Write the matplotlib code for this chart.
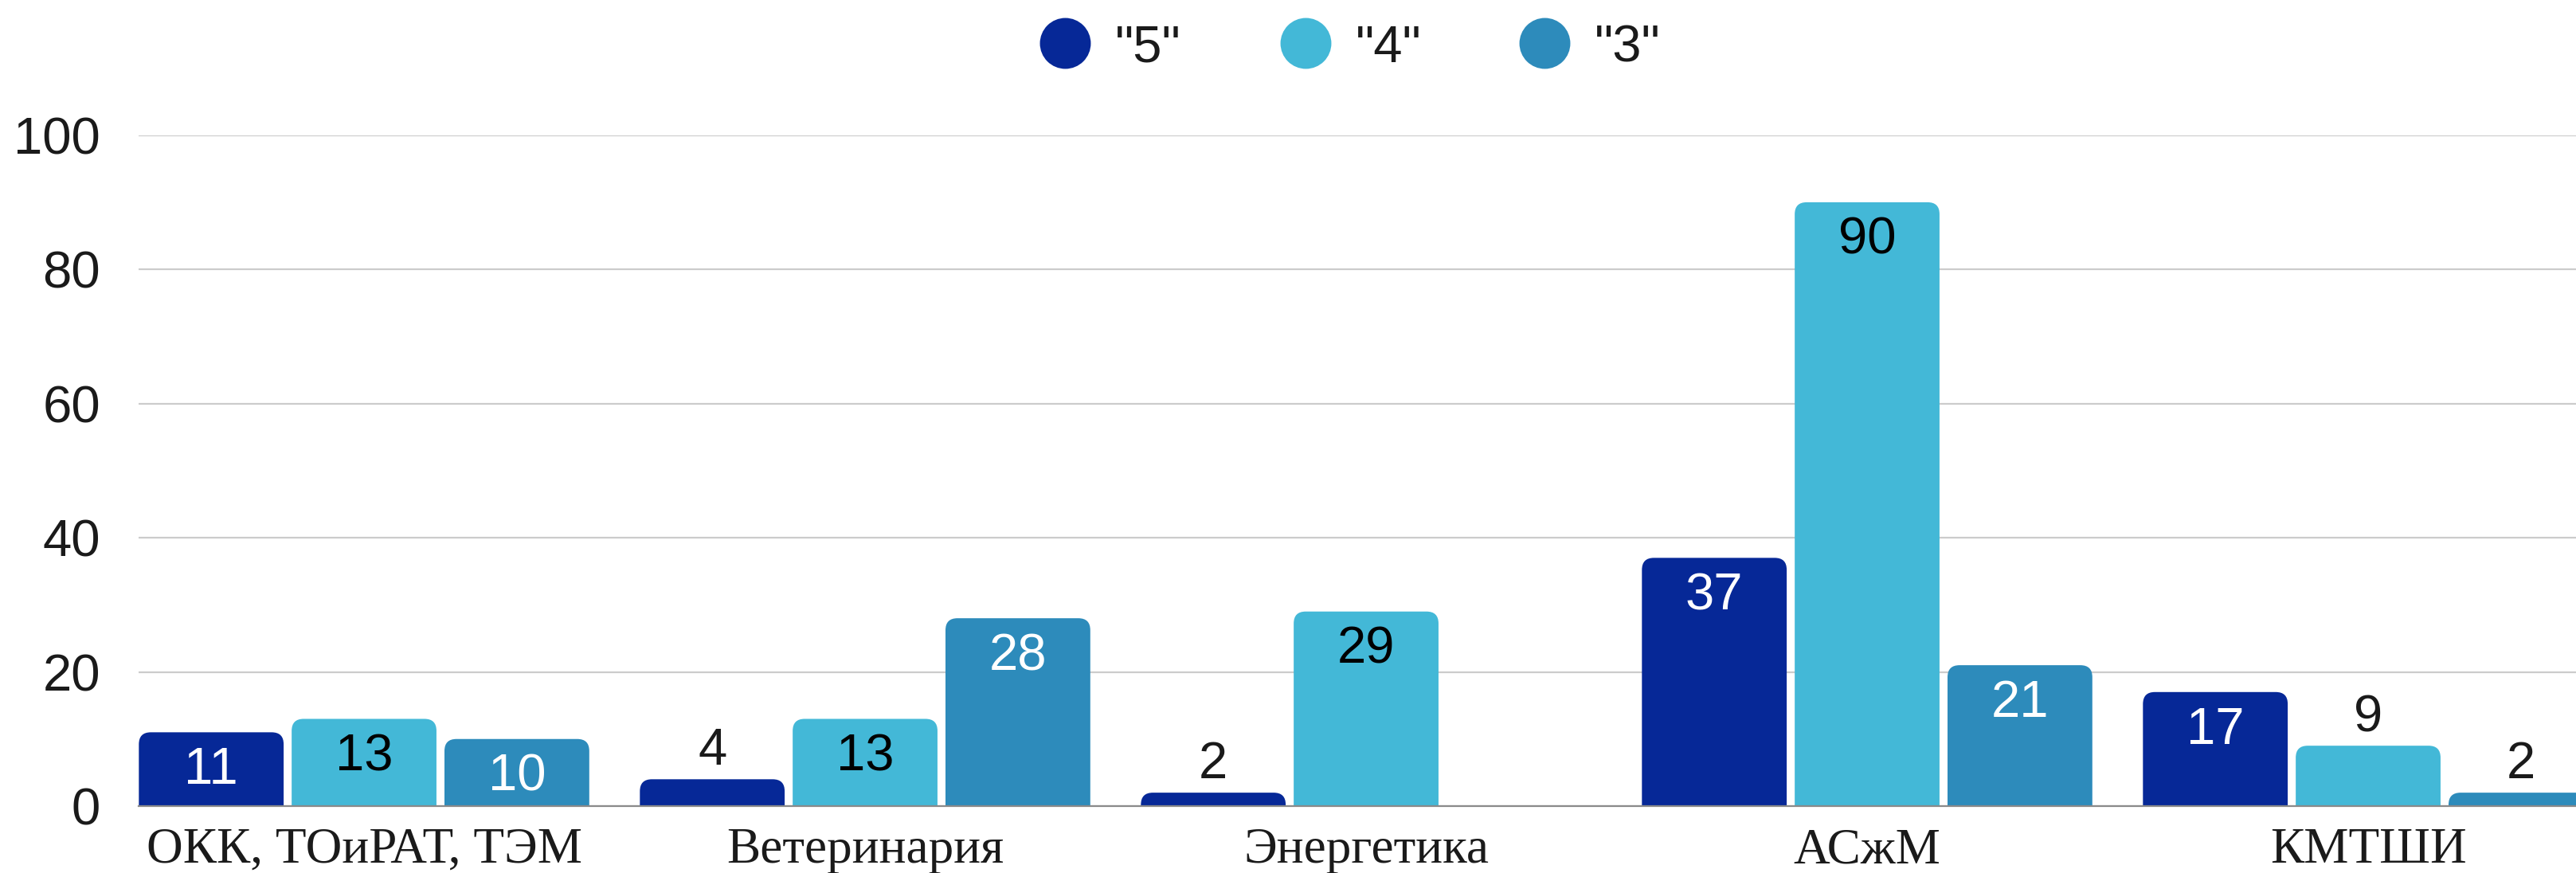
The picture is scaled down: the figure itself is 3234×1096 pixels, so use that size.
import numpy as np
import matplotlib
matplotlib.use("Agg")
import matplotlib.pyplot as plt
from matplotlib.patches import FancyBboxPatch
from matplotlib.lines import Line2D

categories = ["ОКК, ТОиРАТ, ТЭМ", "Ветеринария", "Энергетика", "АСжМ", "КМТШИ"]
series_names = ['"5"', '"4"', '"3"']
grade5 = [11, 4, 2, 37, 17]
grade4 = [13, 13, 29, 90, 9]
grade3 = [10, 28, np.nan, 21, 2]
yticks = [0, 20, 40, 60, 80, 100]

colors = ["#062897", "#43B8D7", "#2D8BBB"]
label_colors = ["white", "black", "white"]

W, H, DPI = 3234, 1096, 100
fig = plt.figure(figsize=(W / DPI, H / DPI), dpi=DPI)
ax_left_px, ax_zero_px, ax_top_px = 174, 1012, 169.7
ax = fig.add_axes([ax_left_px / W, (H - ax_zero_px) / H, 1 - ax_left_px / W,
                   (ax_zero_px - ax_top_px) / H])

sans = ["Liberation Sans", "DejaVu Sans"]
serif = ["Liberation Serif", "DejaVu Serif"]
txt_col = "#1a1a1a"

x = np.arange(len(categories))
pitch = 0.305
bw = 0.289
offsets = [-pitch, 0, pitch]
all_series = [grade5, grade4, grade3]

ax.set_xlim(-0.45, -0.45 + (W - ax_left_px) / 629.0)
ax.set_ylim(0, 100)

# pixel scales
px_per_x = 629.0
px_per_y = (ax_zero_px - ax_top_px) / 100.0
aspect = px_per_x / px_per_y
r_px = 15
r_x = r_px / px_per_x

for si, vals in enumerate(all_series):
    bars = ax.bar(x + offsets[si], np.nan_to_num(vals), width=bw, color=colors[si],
                  label=series_names[si], zorder=3)
    for b, v in zip(bars, vals):
        b.set_visible(False)
        if np.isnan(v) or v <= 0:
            continue
        x0 = b.get_x()
        h = b.get_height()
        extra = 3 * r_px / px_per_y
        patch = FancyBboxPatch((x0, -extra), bw, h + extra,
                               boxstyle=f"round,pad=0,rounding_size={r_x}",
                               mutation_aspect=aspect,
                               facecolor=colors[si], edgecolor="none", zorder=3,
                               clip_on=True)
        ax.add_patch(patch)
        cx = x0 + bw / 2
        if v >= 10:
            ax.annotate(f"{int(v)}", (cx, h), xytext=(0, -13), textcoords="offset points",
                        ha="center", va="top", fontsize=47, family=sans,
                        color=label_colors[si], zorder=5)
        else:
            ax.annotate(f"{int(v)}", (cx, h), xytext=(0, 13), textcoords="offset points",
                        ha="center", va="baseline", fontsize=47, family=sans,
                        color=txt_col, zorder=5)

ax.set_yticks(yticks)
ax.set_yticklabels([str(t) for t in yticks], family=sans, fontsize=47, color=txt_col)
ax.set_xticks(x)
ax.set_xticklabels(categories, family=serif, fontsize=45.5, color=txt_col)
ax.tick_params(axis="y", length=0, pad=34.6)
ax.tick_params(axis="x", length=0, pad=19.5)
for s in ["top", "right", "left"]:
    ax.spines[s].set_visible(False)
ax.spines["bottom"].set_color("#8a8a8a")
ax.spines["bottom"].set_linewidth(1.6)
ax.spines["bottom"].set_zorder(4)
ax.grid(axis="y", color="#cccccc", linewidth=1.6, zorder=0)
ax.set_axisbelow(True)

# legend drawn in figure coordinates
leg_y = 1 - 54 / H
centers = [1337, 1639, 1939]
for i, name in enumerate(series_names):
    fig.add_artist(Line2D([centers[i] / W], [leg_y], marker="o", markersize=46,
                          markerfacecolor=colors[i], markeredgecolor="none",
                          linestyle="none", transform=fig.transFigure))
    fig.text((centers[i] + 63) / W, leg_y, name, ha="left", va="center_baseline",
             fontsize=47, family=sans, color=txt_col)

fig.savefig("out.png", dpi=DPI, facecolor="white")
